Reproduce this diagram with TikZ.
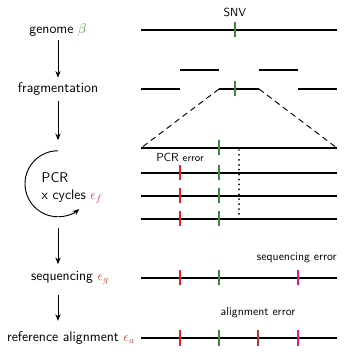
\documentclass[tikz,border=0pt]{standalone}
\usepackage{tikz}
\usetikzlibrary{arrows.meta, positioning}
\definecolor{snvgreen}{HTML}{3C8A3C}
\definecolor{pcrred}{HTML}{EE1C24}
\definecolor{seqpink}{HTML}{E8148C}
\definecolor{alnbrown}{HTML}{B0402A}
\definecolor{errred}{HTML}{D5483A}
\renewcommand{\familydefault}{\sfdefault}

\begin{document}
\begin{tikzpicture}[x=0.03cm, y=0.03cm,
      stage/.style={font=\large, inner sep=3pt},
      note/.style={font=\normalsize, inner sep=1pt},
      read/.style={line width=2.5pt, black},
      snv/.style={line width=2pt, snvgreen},
      pcrerr/.style={line width=2pt, pcrred},
      seqerr/.style={line width=2pt, seqpink},
      alnerr/.style={line width=2pt, alnbrown},
      arr/.style={-{Stealth[length=2mm, width=1.6mm]}, thick}]
    \useasboundingbox (0,0) rectangle (346,354);
    % left column
    \node[stage] (genome) at (58,324) {genome $\color{snvgreen}\beta$};
    \node[stage] (frag)   at (58,265) {fragmentation};
    \node[circle, minimum size=1.98cm, inner sep=0pt] (pcr) at (58,170) {};
    \node[stage, align=left, anchor=west] (pcrtxt) at (38,166)
         {PCR\\x cycles $\color{errred}\epsilon_f$};
    \node[stage] (seq)    at (70,76) {sequencing $\color{errred}\epsilon_g$};
    \node[stage] (ref)    at (71,16) {reference alignment $\color{errred}\epsilon_a$};
    \draw[arr, shorten >=1pt] (genome) -- (frag);
    \draw[arr, shorten <=2pt, shorten >=9pt] (frag) -- (pcr);
    \draw[arr, shorten <=9pt, shorten >=3pt] (pcr.south) -- (pcr.south |- seq.north);
    \draw[arr, shorten <=6pt, shorten >=6pt] (pcr.south |- seq.south) -- (pcr.south |- ref.north);
    \draw[arr] (pcr.north) arc[start angle=90, end angle=310, radius=0.99cm];
    % genome
    \draw[read] (141,324) -- (337,324);
    \draw[snv] (235,316.5) -- (235,331.5);
    \node[note] (snvlbl) at (235,342) {SNV};
    % fragments
    \draw[read] (180,284) -- (219,284) (259,284) -- (298,284);
    \draw[read] (141,265) -- (180,265) (219,265) -- (259,265) (298,265) -- (337,265);
    \draw[snv] (235,257.5) -- (235,272.5);
    \draw[dashed, thick, dash pattern=on 5pt off 3.5pt] (219,265) -- (141,206) (259,265) -- (337,206);
    % PCR copies
    \foreach \y in {206,181,158,135} {
      \draw[read] (141,\y) -- (337,\y);
      \draw[snv] (219,\y-7.5) -- (219,\y+7.5);
    }
    \foreach \y in {181,158,135}
      \draw[pcrerr] (180,\y-7.5) -- (180,\y+7.5);
    \draw[line width=1.7pt, line cap=round, dash pattern=on 0pt off 4.2pt] (239,204) -- (239,135);
    \node[note] (pcrlbl) at (180,197) {PCR {\small error}};
    % sequencing
    \draw[read] (141,76) -- (337,76);
    \draw[pcrerr] (180,68.5) -- (180,83.5);
    \draw[snv] (219,68.5) -- (219,83.5);
    \draw[seqerr] (298,68.5) -- (298,83.5);
    \node[note, anchor=east] (seqlbl) at (338,96) {sequencing error};
    % alignment
    \draw[read] (141,16) -- (337,16);
    \draw[pcrerr] (180,8.5) -- (180,23.5);
    \draw[snv] (219,8.5) -- (219,23.5);
    \draw[alnerr] (258,8.5) -- (258,23.5);
    \draw[seqerr] (298,8.5) -- (298,23.5);
    \node[note] (alnlbl) at (258,41) {alignment error};
  \end{tikzpicture}
\end{document}
